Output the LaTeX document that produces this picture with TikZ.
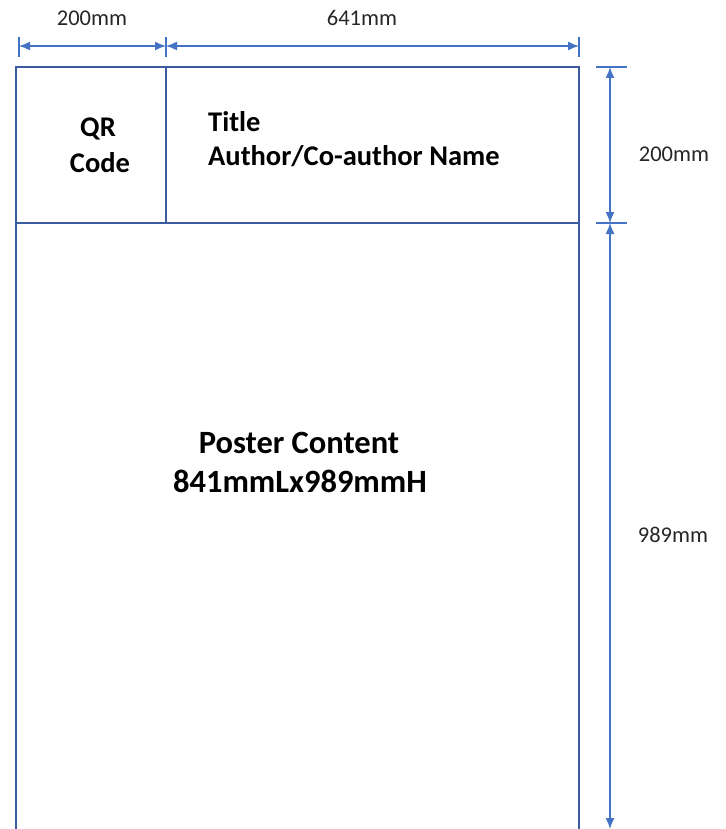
\documentclass[tikz,border=0pt]{standalone}
\usepackage{fontspec}
\setmainfont{Carlito}
\usetikzlibrary{arrows.meta}
\definecolor{boxblue}{HTML}{3A5C9E}
\definecolor{dimblue}{HTML}{4472C4}
\begin{document}
\begin{tikzpicture}[x=1pt,y=-1pt,
  boxline/.style={draw=boxblue,line width=1.8pt},
  dimline/.style={draw=dimblue,line width=1.4pt},
  dimarrow/.style={dimline,{Latex[length=11pt,width=9pt]}-{Latex[length=11pt,width=9pt]}},
  dimlabel/.style={font=\fontsize{22.5}{26}\selectfont,text=black!85,anchor=base,inner sep=0pt},
  headtext/.style={font=\bfseries\fontsize{28.5}{33}\selectfont,inner sep=0pt},
  bigtext/.style={font=\bfseries\fontsize{32.5}{39}\selectfont,anchor=base,inner sep=0pt},
]
\useasboundingbox (0,0) rectangle (725,829);
% box corners
\coordinate (tl) at (16,67);
\coordinate (tr) at (579,67);
\coordinate (bl) at (16,829);
\coordinate (br) at (579,829);
\coordinate (hl) at (16,223);
\coordinate (hr) at (579,223);
\coordinate (dt) at (166,67);
\coordinate (db) at (166,223);
\draw[boxline] (bl) -- (tl) -- (tr) -- (br);
\draw[boxline] (hl) -- (hr);
\draw[boxline] (dt) -- (db);
% top dimension
\coordinate (t1) at (19,46);
\coordinate (t2) at (166,46);
\coordinate (t3) at (579,46);
\draw[dimline] (19,37) -- (19,57);
\draw[dimline] (166,37) -- (166,57);
\draw[dimline] (579,37) -- (579,57);
\draw[dimarrow] (t1) -- (t2);
\draw[dimarrow] (t2) -- (t3);
\node[dimlabel] (l1) at (92,26) {200mm};
\node[dimlabel] (l2) at (362,26) {641mm};
% right dimension
\coordinate (r1) at (610,67);
\coordinate (r2) at (610,223);
\coordinate (r3) at (610,829);
\draw[dimline] (596,67) -- (627,67);
\draw[dimline] (596,223) -- (627,223);
\draw[dimarrow] (r1) -- (r2);
\draw[dimarrow] (r2) -- (r3);
\node[dimlabel] (l3) at (674,162) {200mm};
\node[dimlabel] (l4) at (673,542) {989mm};
% texts
\node[headtext,anchor=base] (qr1) at (98,137) {QR};
\node[headtext,anchor=base] (qr2) at (100,172) {Code};
\node[headtext,anchor=base west] (title) at (208,132) {Title};
\node[headtext,anchor=base west] (author) at (208,165) {Author/Co-author Name};
\node[bigtext] (pc1) at (299,453) {Poster Content};
\node[bigtext] (pc2) at (300,492) {841mmLx989mmH};
\end{tikzpicture}
\end{document}
